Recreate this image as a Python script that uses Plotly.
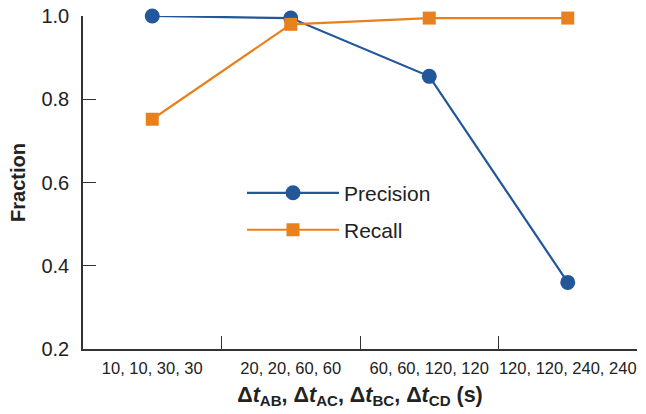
import plotly.graph_objects as go

categories = ["10, 10, 30, 30", "20, 20, 60, 60", "60, 60, 120, 120", "120, 120, 240, 240"]
precision = [1.0, 0.995, 0.855, 0.36]
recall = [0.752, 0.98, 0.995, 0.995]
y_ticks = [0.2, 0.4, 0.6, 0.8, 1.0]
y_ticktext = ["0.2", "0.4", "0.6", "0.8", "1.0"]

blue = "#23579A"
orange = "#E8801E"
axis_color = "#333333"

fig = go.Figure()
fig.add_trace(go.Scatter(
    x=categories, y=precision, name="Precision", mode="lines+markers",
    line=dict(color=blue, width=2.2),
    marker=dict(symbol="circle", size=15, color=blue),
    legend="legend", cliponaxis=False,
))
fig.add_trace(go.Scatter(
    x=categories, y=recall, name="Recall", mode="lines+markers",
    line=dict(color=orange, width=2.2),
    marker=dict(symbol="square", size=13, color=orange),
    legend="legend2", cliponaxis=False,
))

legend_common = dict(
    font=dict(family="Liberation Sans, Arial, sans-serif", size=21, color="#222222"),
    bgcolor="rgba(0,0,0,0)", itemwidth=92, xanchor="left", yanchor="middle",
)

fig.update_layout(
    width=646, height=414,
    margin=dict(l=83, r=9, t=16, b=65),
    paper_bgcolor="white", plot_bgcolor="white",
    font=dict(family="Liberation Sans, Arial, sans-serif", color="#222222"),
    showlegend=True,
    legend=dict(x=0.287, y=0.468, **legend_common),
    legend2=dict(x=0.287, y=0.357, **legend_common),
    xaxis=dict(
        type="category", range=[-0.5, 3.5], automargin=False,
        showline=True, linecolor=axis_color, linewidth=1.5,
        ticks="inside", tickson="boundaries", ticklen=13, tickwidth=1, tickcolor=axis_color,
        showgrid=False, zeroline=False, tickangle=0, ticklabelstandoff=3,
        tickfont=dict(family="Liberation Sans Narrow, Liberation Sans, sans-serif", size=16.5, color="#222222"),
        title=dict(
            text="<b>Δ<i>t</i><sub>AB</sub>, Δ<i>t</i><sub>AC</sub>, Δ<i>t</i><sub>BC</sub>, Δ<i>t</i><sub>CD</sub> (s)</b>",
            font=dict(size=21.5, color="#222222"), standoff=11,
        ),
    ),
    yaxis=dict(
        range=[0.2, 1.0], tickvals=y_ticks, ticktext=y_ticktext, automargin=False,
        showline=True, linecolor=axis_color, linewidth=1.5,
        ticks="inside", ticklen=13, tickwidth=1, tickcolor=axis_color,
        showgrid=False, zeroline=False, ticklabelstandoff=8,
        tickfont=dict(size=20, color="#222222"),
        title=dict(text="<b>Fraction</b>", font=dict(size=20, color="#222222"), standoff=10),
    ),
)

fig.write_html("out.html", config={"displayModeBar": False},
               post_script="document.body.style.margin='0';")
